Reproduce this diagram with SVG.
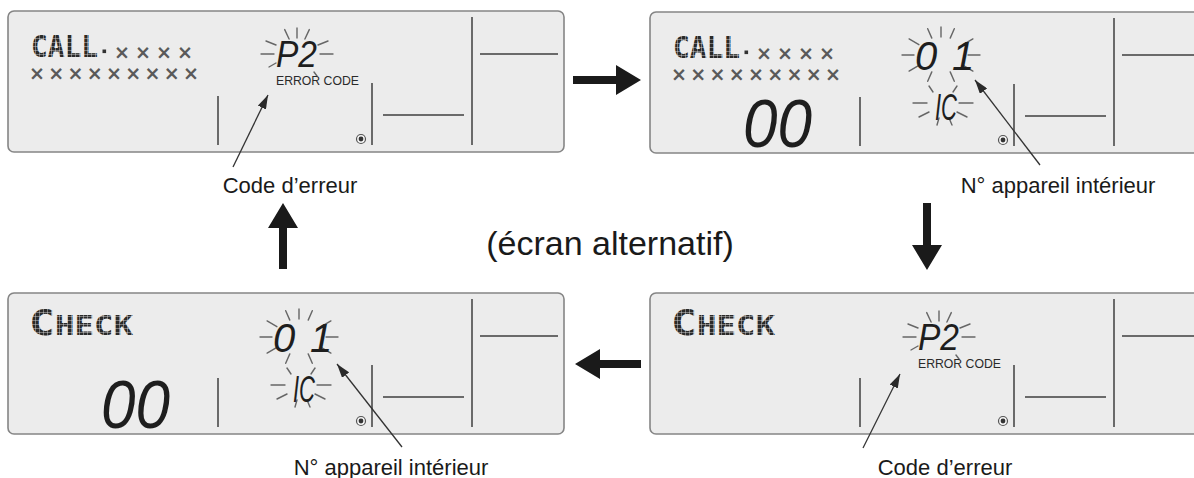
<svg xmlns="http://www.w3.org/2000/svg" xmlns:xlink="http://www.w3.org/1999/xlink" width="1194" height="478" viewBox="0 0 1194 478">
<style>
.panel{fill:#ececec;stroke:#858585;stroke-width:1.6}
.seg{stroke:#6a6a6a;stroke-width:2;fill:none}
.ray{stroke:#666;stroke-width:1.4;stroke-linecap:round;fill:none}
.dm{font-family:"DejaVu Sans Mono",monospace;font-weight:bold;fill:url(#dmf)}
.xx{font-family:"DejaVu Sans",sans-serif;font-size:19px;font-weight:bold;fill:#5a5a5a;text-anchor:middle}
.lcd{font-family:"Liberation Sans",Arial,sans-serif;font-style:italic;fill:#1e1e1e}
.ec{font-family:"Liberation Sans",Arial,sans-serif;font-size:13.5px;fill:#2a2a2a}
.lbl{font-family:"Liberation Sans",Arial,sans-serif;font-size:22px;fill:#1a1a1a;text-anchor:middle}
.ptr{stroke:#333;stroke-width:1.3;fill:none}
.big{fill:#1a1a1a}
</style>
<defs>
  <pattern id="dmf" width="4" height="4" patternUnits="userSpaceOnUse">
    <rect x="0" y="0" width="3.6" height="3.6" fill="#2a2a2a"/>
  </pattern>
  <marker id="ah" viewBox="0 0 14 9" refX="14" refY="4.5" markerWidth="14" markerHeight="9" markerUnits="userSpaceOnUse" orient="auto">
    <path d="M0,0 L14,4.5 L0,9 z" fill="#2a2a2a"/>
  </marker>
  <g id="base">
    <rect class="panel" x="0" y="0" width="556" height="141" rx="6"/>
    <line class="seg" x1="210" y1="85" x2="210" y2="134"/>
    <line class="seg" x1="364" y1="72" x2="364" y2="134"/>
    <line class="seg" x1="375" y1="104" x2="456" y2="104"/>
    <line class="seg" x1="464" y1="6" x2="464" y2="134"/>
    <line class="seg" x1="472" y1="43" x2="550" y2="43"/>
    <circle cx="353" cy="128" r="4.5" fill="#f4f4f4" stroke="#555" stroke-width="1.2"/>
    <circle cx="353" cy="128" r="2.4" fill="#333"/>
  </g>
  <g id="raysP2" class="ray">
    <line x1="23" y1="0" x2="36" y2="0"/>
    <line x1="-23" y1="0" x2="-36" y2="0"/>
    <line x1="0" y1="-16" x2="0" y2="-26"/>
    <line x1="7.9" y1="-15" x2="12.3" y2="-24.4"/>
    <line x1="-7.9" y1="-15" x2="-12.3" y2="-24.4"/>
    <line x1="21" y1="-9" x2="31" y2="-13"/>
    <line x1="-21" y1="-9" x2="-31" y2="-13"/>
    <line x1="-21" y1="9" x2="-28" y2="13"/>
    <line x1="17" y1="18" x2="20" y2="22"/>
  </g>
  <g id="rays01" class="ray">
    <line x1="27" y1="0" x2="39" y2="0"/>
    <line x1="-27" y1="0" x2="-39" y2="0"/>
    <line x1="0" y1="-18" x2="0" y2="-28"/>
    <line x1="9.2" y1="-16.9" x2="13.3" y2="-26.3"/>
    <line x1="-9.2" y1="-16.9" x2="-13.3" y2="-26.3"/>
    <line x1="22.1" y1="-10.3" x2="31.9" y2="-16.1"/>
    <line x1="-22.1" y1="-10.3" x2="-31.9" y2="-16.1"/>
    <line x1="-22.1" y1="10.3" x2="-31.9" y2="16.1"/>
    <line x1="22.1" y1="10.3" x2="31.9" y2="16.1"/>
    <line x1="-9.2" y1="16.9" x2="-13.3" y2="26.3"/>
    <line x1="9.2" y1="16.9" x2="13.3" y2="26.3"/>
  </g>
  <g id="raysIC" class="ray">
    <line x1="16" y1="0" x2="30" y2="0"/>
    <line x1="-16" y1="0" x2="-30" y2="0"/>
    <line x1="10" y1="-11" x2="14" y2="-17"/>
    <line x1="-10" y1="-11" x2="-14" y2="-17"/>
    <line x1="-14" y1="9" x2="-24" y2="14"/>
    <line x1="14" y1="9" x2="24" y2="14"/>
    <line x1="-4" y1="15" x2="-6" y2="22"/>
    <line x1="6" y1="15" x2="9" y2="22"/>
  </g>
</defs>

<g id="panel-call-error" transform="translate(8,11)">
  <use xlink:href="#base" href="#base"/>
  <text class="dm" x="23" y="46" font-size="31" textLength="67" lengthAdjust="spacingAndGlyphs">CALL</text>
  <rect x="94.5" y="38.5" width="3.6" height="3.6" fill="#333"/>
  <text class="xx" x="114 135 156 177" y="48">××××</text>
  <text class="xx" x="29 48.25 67.5 86.75 106 125.25 144.5 163.75 183" y="69">×××××××××</text>
  <use xlink:href="#raysP2" href="#raysP2" x="289" y="43"/>
  <text class="lcd" x="268" y="56" font-size="36" textLength="41" lengthAdjust="spacingAndGlyphs">P2</text>
  <text class="ec" x="268" y="74" textLength="83" lengthAdjust="spacingAndGlyphs">ERROR CODE</text>
</g>

<g id="panel-call-unit" transform="translate(650,12)">
  <use xlink:href="#base" href="#base"/>
  <text class="dm" x="23" y="46" font-size="31" textLength="67" lengthAdjust="spacingAndGlyphs">CALL</text>
  <rect x="94.5" y="38.5" width="3.6" height="3.6" fill="#333"/>
  <text class="xx" x="114 135 156 177" y="48">××××</text>
  <text class="xx" x="29 48.25 67.5 86.75 106 125.25 144.5 163.75 183" y="69">×××××××××</text>
  <text class="lcd" x="93" y="135" font-size="68" textLength="69" lengthAdjust="spacingAndGlyphs">00</text>
  <use xlink:href="#rays01" href="#rays01" x="291" y="43"/>
  <text class="lcd" x="265 302" y="58" font-size="40">01</text>
  <use xlink:href="#raysIC" href="#raysIC" x="293" y="91"/>
  <text class="lcd" x="285" y="108" font-size="36" textLength="22" lengthAdjust="spacingAndGlyphs">IC</text>
</g>

<g id="panel-check-unit" transform="translate(8,293)">
  <use xlink:href="#base" href="#base"/>
  <text class="dm" x="21" y="42" textLength="104" lengthAdjust="spacingAndGlyphs"><tspan font-size="36">C</tspan><tspan font-size="27">HECK</tspan></text>
  <text class="lcd" x="93" y="135" font-size="68" textLength="69" lengthAdjust="spacingAndGlyphs">00</text>
  <use xlink:href="#rays01" href="#rays01" x="291" y="44"/>
  <text class="lcd" x="265 302" y="59" font-size="40">01</text>
  <use xlink:href="#raysIC" href="#raysIC" x="293" y="92"/>
  <text class="lcd" x="285" y="109" font-size="36" textLength="22" lengthAdjust="spacingAndGlyphs">IC</text>
</g>

<g id="panel-check-error" transform="translate(650,293)">
  <use xlink:href="#base" href="#base"/>
  <text class="dm" x="21" y="42" textLength="104" lengthAdjust="spacingAndGlyphs"><tspan font-size="36">C</tspan><tspan font-size="27">HECK</tspan></text>
  <use xlink:href="#raysP2" href="#raysP2" x="289" y="44"/>
  <text class="lcd" x="268" y="57" font-size="36" textLength="41" lengthAdjust="spacingAndGlyphs">P2</text>
  <text class="ec" x="268" y="75" textLength="83" lengthAdjust="spacingAndGlyphs">ERROR CODE</text>
</g>

<g id="leaders">
  <line class="ptr" x1="233" y1="167" x2="268" y2="95" marker-end="url(#ah)"/>
  <line class="ptr" x1="1040" y1="165" x2="975" y2="80" marker-end="url(#ah)"/>
  <line class="ptr" x1="402" y1="447" x2="337" y2="364" marker-end="url(#ah)"/>
  <line class="ptr" x1="863" y1="448" x2="900" y2="374" marker-end="url(#ah)"/>
</g>

<g id="connectors">
  <polygon class="big" points="573,76 616,76 616,65 641,80 616,95 616,84 573,84"/>
  <polygon class="big" points="927,270 912,245 923,245 923,203 931,203 931,245 942,245"/>
  <polygon class="big" points="575,364 600,349 600,360 641,360 641,368 600,368 600,379"/>
  <polygon class="big" points="283,203 298,228 287,228 287,269 279,269 279,228 268,228"/>
</g>

<g id="labels">
  <text class="lbl" x="290" y="193">Code d’erreur</text>
  <text class="lbl" x="1058" y="193">N° appareil intérieur</text>
  <text class="lbl" x="391" y="475">N° appareil intérieur</text>
  <text class="lbl" x="945" y="475">Code d’erreur</text>
  <text x="610" y="255" font-family="Liberation Sans, Arial, sans-serif" font-size="34" fill="#1a1a1a" text-anchor="middle">(écran alternatif)</text>
</g>
</svg>
